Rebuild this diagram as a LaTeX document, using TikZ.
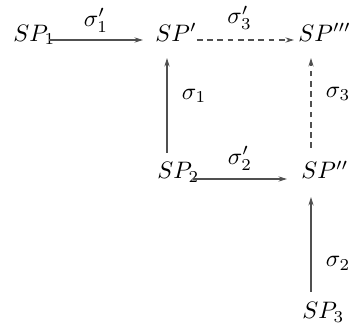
\documentclass[tikz,border=0pt]{standalone}
\usetikzlibrary{arrows.meta, calc, positioning}
\definecolor{mapGrey}{HTML}{505050}
\tikzset{
  state/.style    = {inner sep=0pt, anchor=base west},
  maparrow/.style = {-{Stealth[length=3.6pt, width=2.2pt, inset=1.2pt]},
                     mapGrey, line width=0.55pt},
  pending/.style  = {maparrow, dash pattern=on 2.4pt off 1.9pt},
  maplbl/.style   = {inner sep=0pt, text=black},
}

\begin{document}
\begin{tikzpicture}[x=0.42pt, y=-0.42pt]
  \useasboundingbox (0,0) rectangle (352,331);

  % states
  \node[state] (sp1)    at (13,41)   {$SP_1$};
  \node[state] (spa)    at (155,41)  {$SP'$};
  \node[state] (spc)    at (298,41)  {$SP'''$};
  \node[state] (sp2)    at (157,179) {$SP_2$};
  \node[state] (spb)    at (301,179) {$SP''$};
  \node[state] (sp3)    at (302,319) {$SP_3$};

  % maps
  \draw[maparrow] ($(sp1.base west)+(36,-1)$) -- ($(spa.base west)+(-12,-1)$)
    node[maplbl, midway, above=3pt] {$\sigma_1'$};
  \draw[pending]  ($(spa.base west)+(42,-1)$) -- ($(spc.base west)+(-4,-1)$)
    node[maplbl, midway, above=4pt, xshift=-2.5pt] {$\sigma_3'$};
  \draw[maparrow] ($(sp2.base west)+(10,-26)$) -- ($(spa.base west)+(12,17)$)
    node[maplbl, pos=0.6, right=6pt] {$\sigma_1$};
  \draw[pending]  ($(spb.base west)+(10,-31)$) -- ($(spc.base west)+(13,17)$)
    node[maplbl, pos=0.6, right=6pt] {$\sigma_3$};
  \draw[maparrow] ($(sp2.base west)+(36,0)$) -- ($(spb.base west)+(-14,0)$)
    node[maplbl, midway, above=3.5pt] {$\sigma_2'$};
  \draw[maparrow] ($(sp3.base west)+(9,-27)$) -- ($(spb.base west)+(10,18)$)
    node[maplbl, pos=0.3, right=6pt] {$\sigma_2$};
\end{tikzpicture}
\end{document}
